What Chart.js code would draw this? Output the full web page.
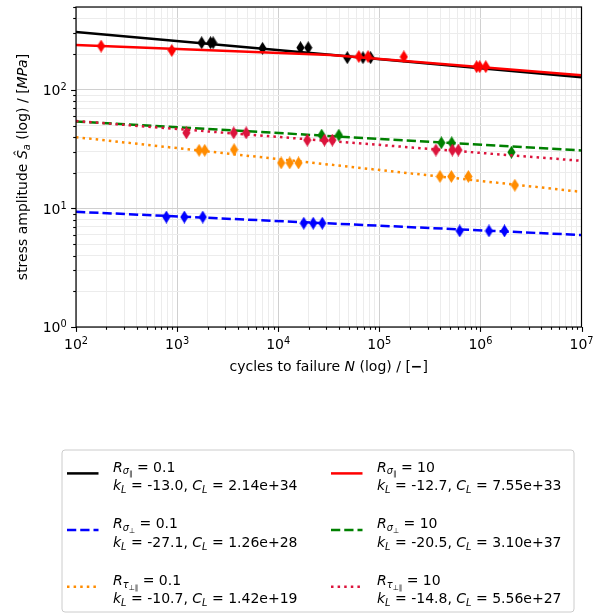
<!DOCTYPE html>
<html>
<head>
<meta charset="utf-8">
<script src="https://cdn.jsdelivr.net/npm/chart.js@4.4.0/dist/chart.umd.min.js"></script>
<style>
  html, body { margin: 0; padding: 0; background: #fff; }
</style>
</head>
<body>
<canvas id="snChart" width="606" height="615"></canvas>
<script>
// test points: cycles to failure N and stress amplitude S_a [MPa]
const nSigPar01 = [1750, 2140, 2270, 7000, 16600, 19800, 48200, 68900, 82000];
const sSigPar01 = [250, 250, 250, 224, 227, 227, 187, 187, 187];
const nSigPerp01 = [783, 1180, 1795, 17900, 22200, 27300, 624000, 1216000, 1730000];
const sSigPerp01 = [8.46, 8.46, 8.46, 7.5, 7.5, 7.5, 6.46, 6.46, 6.46];
const nTau01 = [1650, 1875, 3660, 10700, 13000, 15900, 398000, 516000, 760000, 2190000];
const sTau01 = [30.9, 30.9, 31.3, 24.2, 24.2, 24.2, 18.6, 18.6, 18.6, 15.7];
const nSigPar10 = [177, 886, 62800, 77400, 175000, 918000, 984000, 1130000];
const sSigPar10 = [234, 215, 191, 191, 190, 157, 157, 157];
const nSigPerp10 = [26900, 39800, 411000, 520000, 2030000];
const sSigPerp10 = [41.5, 41.5, 35.8, 35.8, 29.8];
const nTau10 = [1236, 3630, 4820, 19400, 28700, 34300, 363000, 528000, 605000];
const sTau10 = [43.4, 43.4, 43.4, 37.7, 37.7, 37.7, 31.1, 31.1, 31.1];

// fitted S-N lines (vertices)
const lineN = [1e2, 1e7];
const lineSigPar01 = [307, 127.5];
const lineSigPerp01 = [9.37, 5.97];
const lineTau01 = [39.9, 13.8];
const lineNRed = [1e2, 3.3e4, 1e7];
const lineSigPar10 = [239, 197, 133];
const lineSigPerp10 = [54.2, 30.8];
const lineTau10 = [54.6, 25.2];

// legend texts
const legendR = ['0.1', '0.1', '0.1', '10', '10', '10'];
const legendK = ['-13.0', '-27.1', '-10.7', '-12.7', '-20.5', '-14.8'];
const legendC = ['2.14e+34', '1.26e+28', '1.42e+19', '7.55e+33', '3.10e+37', '5.56e+27'];

// axis ticks
const xMajor = [1e2, 1e3, 1e4, 1e5, 1e6, 1e7];
const xMajorExp = ['2', '3', '4', '5', '6', '7'];
const yMajor = [1, 10, 100];
const yMajorExp = ['0', '1', '2'];

const FONT = '"DejaVu Sans"';

function minorTicks(majors, max) {
  const out = [];
  majors.forEach(m => {
    for (let k = 1; k <= 9; k++) {
      const v = m * k;
      if (v <= max * 1.0001) out.push(v);
    }
  });
  return out;
}
const xGrid = minorTicks(xMajor, 1e7);
const yGrid = minorTicks(yMajor, 500);

function isMajor(v) {
  const l = Math.log10(v);
  return Math.abs(l - Math.round(l)) < 1e-9;
}

// thin diamond marker ('d' style)
function diamond(color) {
  const c = document.createElement('canvas');
  c.width = 9; c.height = 13;
  const g = c.getContext('2d');
  g.fillStyle = color;
  g.beginPath();
  g.moveTo(4.5, 0); g.lineTo(8.6, 6.5); g.lineTo(4.5, 13); g.lineTo(0.4, 6.5);
  g.closePath();
  g.fill();
  return c;
}

// drawing order: black, blue, orange, red, green, crimson
const series = [
  {color: '#000000', dash: [], n: nSigPar01, s: sSigPar01, ln: lineN, ls: lineSigPar01, sym: 'σ', sub: '∥'},
  {color: '#0000ff', dash: [9.25, 4], n: nSigPerp01, s: sSigPerp01, ln: lineN, ls: lineSigPerp01, sym: 'σ', sub: '⊥'},
  {color: '#ff8c00', dash: [2.5, 4.1], n: nTau01, s: sTau01, ln: lineN, ls: lineTau01, sym: 'τ', sub: '⊥∥'},
  {color: '#ff0000', dash: [], n: nSigPar10, s: sSigPar10, ln: lineNRed, ls: lineSigPar10, sym: 'σ', sub: '∥'},
  {color: '#008000', dash: [9.25, 4], n: nSigPerp10, s: sSigPerp10, ln: lineN, ls: lineSigPerp10, sym: 'σ', sub: '⊥'},
  {color: '#dc143c', dash: [2.5, 4.1], n: nTau10, s: sTau10, ln: lineN, ls: lineTau10, sym: 'τ', sub: '⊥∥'}
];

const datasets = [];
let ord = 100;
series.forEach(sr => {
  datasets.push({
    data: sr.ln.map((n, i) => ({x: n, y: sr.ls[i]})),
    showLine: true,
    borderColor: sr.color,
    borderWidth: 2.5,
    borderDash: sr.dash,
    pointRadius: 0,
    fill: false,
    order: ord--
  });
  datasets.push({
    data: sr.n.map((n, i) => ({x: n, y: sr.s[i]})),
    showLine: false,
    pointStyle: diamond(sr.color),
    pointRadius: 6,
    order: ord--
  });
});

// rich text: {t, i: italic, b: bold, lvl: 0 normal, 1 sub, 2 subsub, -1 sup}
function segSize(seg, base) {
  const lvl = seg.lvl || 0;
  if (lvl === 0) return base;
  if (lvl === 2) return base * 0.5;
  return base * 0.7;
}
function segShift(seg, base) {
  switch (seg.lvl) {
    case 1: return base * 0.2;
    case 2: return base * 0.33;
    case -1: return -base * 0.37;
    default: return 0;
  }
}
function setFont(ctx, seg, base) {
  ctx.font = (seg.i ? 'italic ' : '') + (seg.b ? 'bold ' : '') + segSize(seg, base) + 'px ' + FONT;
}
function richWidth(ctx, segs, base) {
  let w = 0;
  segs.forEach(s => { setFont(ctx, s, base); w += ctx.measureText(s.t).width; });
  return w;
}
function drawRich(ctx, segs, x, y, base, align) {
  const w = richWidth(ctx, segs, base);
  let cx = align === 'center' ? x - w / 2 : (align === 'right' ? x - w : x);
  ctx.textAlign = 'left';
  ctx.textBaseline = 'alphabetic';
  segs.forEach(s => {
    setFont(ctx, s, base);
    ctx.fillText(s.t, cx, y + segShift(s, base));
    cx += ctx.measureText(s.t).width;
  });
}

const decor = {
  id: 'snDecor',
  afterDraw(chart) {
    const ctx = chart.ctx;
    const xs = chart.scales.x, ys = chart.scales.y;
    const a = chart.chartArea;
    ctx.save();
    ctx.fillStyle = '#000';
    ctx.strokeStyle = '#000';

    // tick marks
    ctx.lineWidth = 1.1;
    xGrid.forEach(v => {
      const px = Math.round(xs.getPixelForValue(v)) + 0.5;
      const len = isMajor(v) ? 4.9 : 2.8;
      ctx.beginPath(); ctx.moveTo(px, a.bottom); ctx.lineTo(px, a.bottom + len); ctx.stroke();
    });
    yGrid.forEach(v => {
      const py = Math.round(ys.getPixelForValue(v)) + 0.5;
      const len = isMajor(v) ? 4.9 : 2.8;
      ctx.beginPath(); ctx.moveTo(a.left, py); ctx.lineTo(a.left - len, py); ctx.stroke();
    });

    // frame
    ctx.lineWidth = 1.2;
    ctx.strokeRect(a.left, a.top, a.right - a.left, a.bottom - a.top);

    // tick labels
    xMajor.forEach((v, i) => {
      drawRich(ctx, [{t: '10'}, {t: xMajorExp[i], lvl: -1}], xs.getPixelForValue(v), a.bottom + 22, 14, 'center');
    });
    yMajor.forEach((v, i) => {
      drawRich(ctx, [{t: '10'}, {t: yMajorExp[i], lvl: -1}], a.left - 9.3, ys.getPixelForValue(v) + 5.3, 14, 'right');
    });

    // axis titles
    drawRich(ctx, [{t: 'cycles to failure '}, {t: 'N', i: true}, {t: ' (log) / ['}, {t: '−', b: true}, {t: ']'}],
      (a.left + a.right) / 2, 370.5, 14, 'center');
    ctx.save();
    ctx.translate(27, (a.top + a.bottom) / 2);
    ctx.rotate(-Math.PI / 2);
    drawRich(ctx, [{t: 'stress amplitude '}, {t: 'Ŝ', i: true}, {t: 'a', i: true, lvl: 1}, {t: ' (log) / ['}, {t: 'MPa', i: true}, {t: ']'}],
      0, 0, 14, 'center');
    ctx.restore();

    // legend box
    const bx = 62, by = 450, bw = 512, bh = 162, r = 3;
    ctx.beginPath();
    ctx.moveTo(bx + r, by);
    ctx.arcTo(bx + bw, by, bx + bw, by + bh, r);
    ctx.arcTo(bx + bw, by + bh, bx, by + bh, r);
    ctx.arcTo(bx, by + bh, bx, by, r);
    ctx.arcTo(bx, by, bx + bw, by, r);
    ctx.closePath();
    ctx.fillStyle = 'rgba(255,255,255,0.8)';
    ctx.fill();
    ctx.strokeStyle = '#cccccc';
    ctx.lineWidth = 1;
    ctx.stroke();

    // legend entries, two columns
    const colX = [67, 331];
    const rowY = [471.6, 528.3, 585];
    series.forEach((sr, i) => {
      const col = Math.floor(i / 3), row = i % 3;
      const lx = colX[col], ty = rowY[row];
      ctx.save();
      ctx.strokeStyle = sr.color;
      ctx.lineWidth = 2.5;
      ctx.setLineDash(sr.dash);
      ctx.beginPath();
      ctx.moveTo(lx, ty + 1.8); ctx.lineTo(lx + 31.5, ty + 1.8);
      ctx.stroke();
      ctx.restore();
      ctx.fillStyle = '#000';
      drawRich(ctx, [{t: 'R', i: true}, {t: sr.sym, i: true, lvl: 1}, {t: sr.sub, lvl: 2}, {t: ' = ' + legendR[i]}],
        lx + 46, ty, 14, 'left');
      drawRich(ctx, [{t: 'k', i: true}, {t: 'L', i: true, lvl: 1}, {t: ' = ' + legendK[i] + ', '},
        {t: 'C', i: true}, {t: 'L', i: true, lvl: 1}, {t: ' = ' + legendC[i]}],
        lx + 46, ty + 18.4, 14, 'left');
    });
    ctx.restore();
  }
};

const gridColor = ctx => (ctx.tick && isMajor(ctx.tick.value)) ? '#d0d0d0' : '#ececec';

new Chart(document.getElementById('snChart'), {
  type: 'scatter',
  data: {datasets: datasets},
  options: {
    responsive: false,
    devicePixelRatio: 1,
    animation: false,
    layout: {padding: {left: 0, right: 24.5, top: 4, bottom: 248}},
    plugins: {legend: {display: false}, tooltip: {enabled: false}},
    scales: {
      x: {
        type: 'logarithmic', min: 1e2, max: 1e7,
        afterBuildTicks: ax => { ax.ticks = xGrid.map(v => ({value: v, major: isMajor(v)})); },
        afterFit: ax => { ax.height = 40; },
        ticks: {display: false},
        grid: {color: gridColor, lineWidth: 1, drawTicks: false},
        border: {display: false}
      },
      y: {
        type: 'logarithmic', min: 1, max: 500,
        afterBuildTicks: ax => { ax.ticks = yGrid.map(v => ({value: v, major: isMajor(v)})); },
        afterFit: ax => { ax.width = 76; },
        ticks: {display: false},
        grid: {color: gridColor, lineWidth: 1, drawTicks: false},
        border: {display: false}
      }
    }
  },
  plugins: [decor]
});
</script>
</body>
</html>
